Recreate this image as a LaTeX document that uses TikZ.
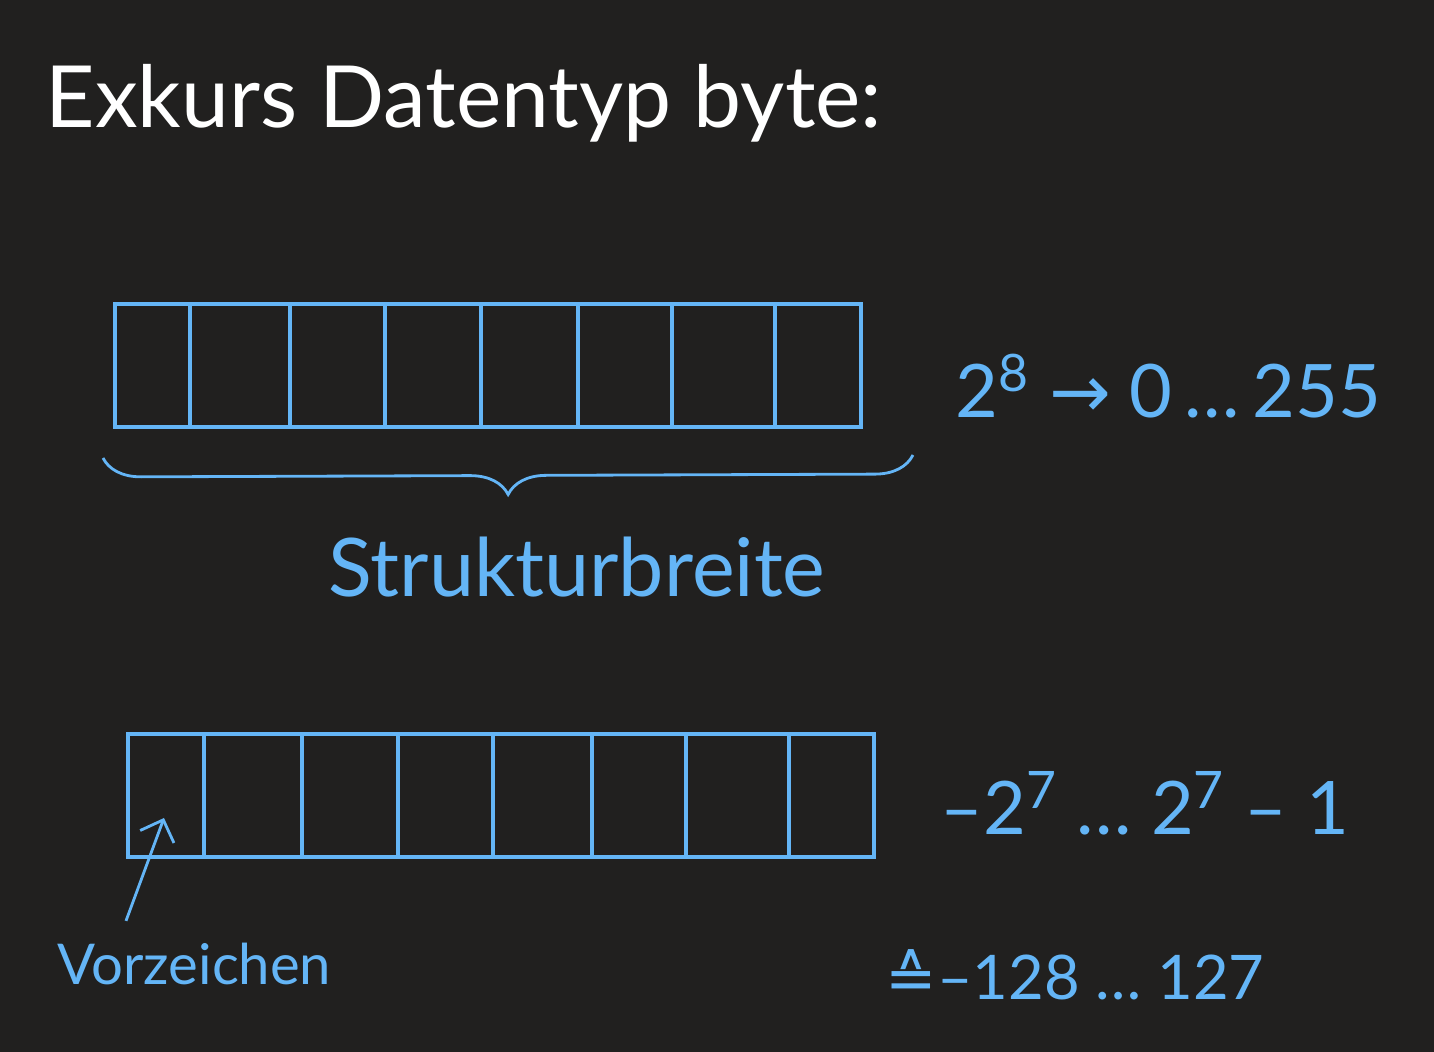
\documentclass[tikz,border=0pt]{standalone}
\usepackage{fontspec}
\setmainfont{Lato}
\newfontfamily\symfont{DejaVu Sans}
\usetikzlibrary{positioning,decorations.pathreplacing,arrows.meta}
\definecolor{board}{RGB}{33,32,31}
\definecolor{chalkblue}{RGB}{100,181,246}
\tikzset{
  bytebox/.style={draw=chalkblue,line width=1.1pt,inner sep=0pt,
    minimum width=7.46cm,minimum height=1.23cm},
  celldiv/.style={draw=chalkblue,line width=1.1pt},
  hand/.style={text=chalkblue,inner sep=0pt,anchor=base west},
}
\begin{document}
\begin{tikzpicture}
  % board
  \fill[board] (0,0) rectangle (14.34,-10.52);
  \useasboundingbox (0,0) rectangle (14.34,-10.52);
  % title
  \node[anchor=base west,inner sep=0pt,text=white,font=\fontsize{24.4}{28}\selectfont]
    (title) at (0.45,-1.28) {Exkurs Datentyp byte:};
  % unsigned byte
  \node[bytebox] (ubyte) at (4.88,-3.655) {};
  \foreach \x in {1.90,2.90,3.85,4.81,5.78,6.72,7.75}
    \draw[celldiv] (\x,-3.04) -- (\x,-4.27);
  \coordinate (bl) at (1.03,-4.58);
  \coordinate (br) at (9.13,-4.55);
  \draw[chalkblue,line width=0.8pt,decorate,
        decoration={brace,mirror,amplitude=0.38cm}] (bl) -- (br);
  \node[text=chalkblue,font=\fontsize{23}{27}\selectfont] (width) at (5.77,-5.67) {Strukturbreite};
  \node[hand,font=\fontsize{21}{25}\selectfont] (urange) at (9.55,-4.18)
    {2\textsuperscript{8} {\symfont→} 0\,…\,255};
  % signed byte
  \node[bytebox] (sbyte) at (5.01,-7.955) {};
  \foreach \x in {2.04,3.02,3.98,4.93,5.92,6.86,7.89}
    \draw[celldiv] (\x,-7.34) -- (\x,-8.57);
  \coordinate (signbit) at (1.64,-8.18);
  \node[hand,font=\fontsize{16}{20}\selectfont] (vz) at (0.57,-9.85) {Vorzeichen};
  \draw[chalkblue,line width=0.8pt,-{Straight Barb[length=1.8mm]}]
    ([shift={(0.69,0.22)}]vz.north west) -- (signbit);
  \node[hand,font=\fontsize{21}{25}\selectfont] (srange) at (9.40,-8.35)
    {–2\textsuperscript{7} … 2\textsuperscript{7} – 1};
  \node[hand,font=\fontsize{17.5}{21}\selectfont] (sdec) at (8.85,-10.00)
    {{\symfont ≙}–128 … 127};
\end{tikzpicture}
\end{document}
